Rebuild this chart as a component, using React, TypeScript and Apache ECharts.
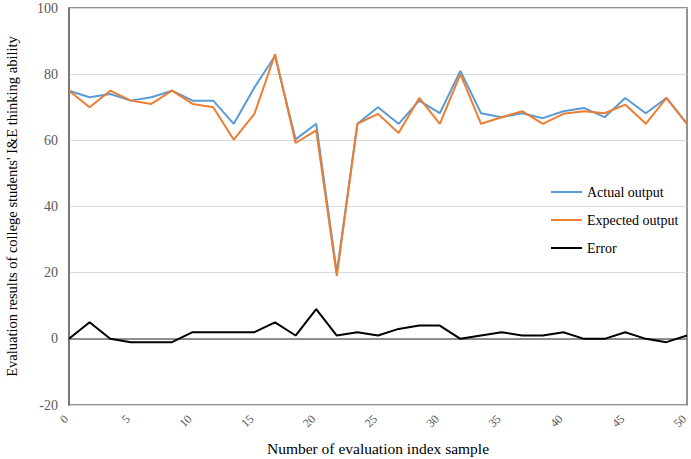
import React, { useEffect, useRef } from "react";
import * as echarts from "echarts";

const sampleIndex: number[] = Array.from({ length: 31 }, (_, i) => (i * 50) / 30);
const actualOutput: number[] = [75, 73, 74, 72, 73, 75, 72, 72, 65, 76, 85.5, 60.3, 65, 20, 65, 70, 65, 72, 68.2, 81, 68.2, 67, 68.2, 66.7, 68.8, 69.8, 67, 72.8, 68.2, 72.8, 65];
const expectedOutput: number[] = [75, 70, 75, 72, 71, 75, 71, 70, 60.2, 68, 86, 59.2, 63, 19, 65, 68, 62.2, 72.8, 65, 80, 65, 67, 68.8, 65, 68, 68.8, 68.2, 70.8, 65, 72.8, 65];
const errorValues: number[] = [0, 5, 0, -1, -1, -1, 2, 2, 2, 2, 5, 1, 9, 1, 2, 1, 3, 4, 4, 0, 1, 2, 1, 1, 2, 0, 0, 2, 0, -1, 1];

const FONT = "'Liberation Serif', 'Times New Roman', serif";

export default function App() {
  const ref = useRef<HTMLDivElement>(null);
  useEffect(() => {
    if (!ref.current) return;
    const chart = echarts.init(ref.current, undefined, { renderer: "svg" });
    const toPairs = (arr: number[]) => arr.map((v, i) => [sampleIndex[i], v]);
    chart.setOption({
      animation: false,
      textStyle: { fontFamily: FONT },
      grid: {
        left: 69,
        right: 4,
        top: 8,
        bottom: 54,
        show: true,
        borderColor: "#6f6f6f",
        borderWidth: 1.5,
        containLabel: false,
        outerBoundsMode: "none",
      },
      legend: {
        orient: "vertical",
        left: 546,
        top: 180,
        itemWidth: 31,
        itemHeight: 2,
        itemGap: 14,
        icon: "rect",
        textStyle: { fontFamily: FONT, fontSize: 14, color: "#000" },
        data: ["Actual output", "Expected output", "Error"],
      },
      xAxis: {
        type: "value",
        min: 0,
        max: 50,
        interval: 5,
        name: "Number of evaluation index sample",
        nameLocation: "middle",
        nameGap: 35,
        nameTextStyle: { fontFamily: FONT, fontSize: 15.5, color: "#000" },
        axisLine: { show: true, lineStyle: { color: "#6f6f6f", width: 1.5 } },
        axisTick: { show: false },
        splitLine: { show: false },
        axisLabel: {
          rotate: 45,
          align: "right",
          verticalAlign: "middle",
          fontFamily: FONT,
          fontSize: 12,
          color: "#595959",
          margin: 9,
          padding: [0, 4, 0, 0],
        },
      },
      yAxis: {
        type: "value",
        min: -20,
        max: 100,
        interval: 20,
        name: "Evaluation results of college students' I&E thinking ability",
        nameLocation: "middle",
        nameGap: 50,
        nameTextStyle: { fontFamily: FONT, fontSize: 14.5, color: "#000" },
        axisLine: { show: true, lineStyle: { color: "#6f6f6f", width: 1.5 } },
        axisTick: { show: false },
        splitLine: { show: true, lineStyle: { color: "#d9d9d9", width: 1 } },
        axisLabel: { fontFamily: FONT, fontSize: 14, color: "#595959", margin: 11 },
      },
      series: [
        {
          name: "Actual output",
          type: "line",
          data: toPairs(actualOutput),
          showSymbol: false,
          symbol: "none",
          lineStyle: { color: "#5b9bd5", width: 2 },
          itemStyle: { color: "#5b9bd5" },
        },
        {
          name: "Expected output",
          type: "line",
          data: toPairs(expectedOutput),
          showSymbol: false,
          symbol: "none",
          lineStyle: { color: "#ed7d31", width: 2 },
          itemStyle: { color: "#ed7d31" },
        },
        {
          name: "Error",
          type: "line",
          data: toPairs(errorValues),
          showSymbol: false,
          symbol: "none",
          lineStyle: { color: "#000000", width: 2 },
          itemStyle: { color: "#000000" },
        },
      ],
    });
    return () => chart.dispose();
  }, []);
  return <div ref={ref} style={{ width: 691, height: 459, position: "absolute", left: 0, top: 0 }} />;
}
